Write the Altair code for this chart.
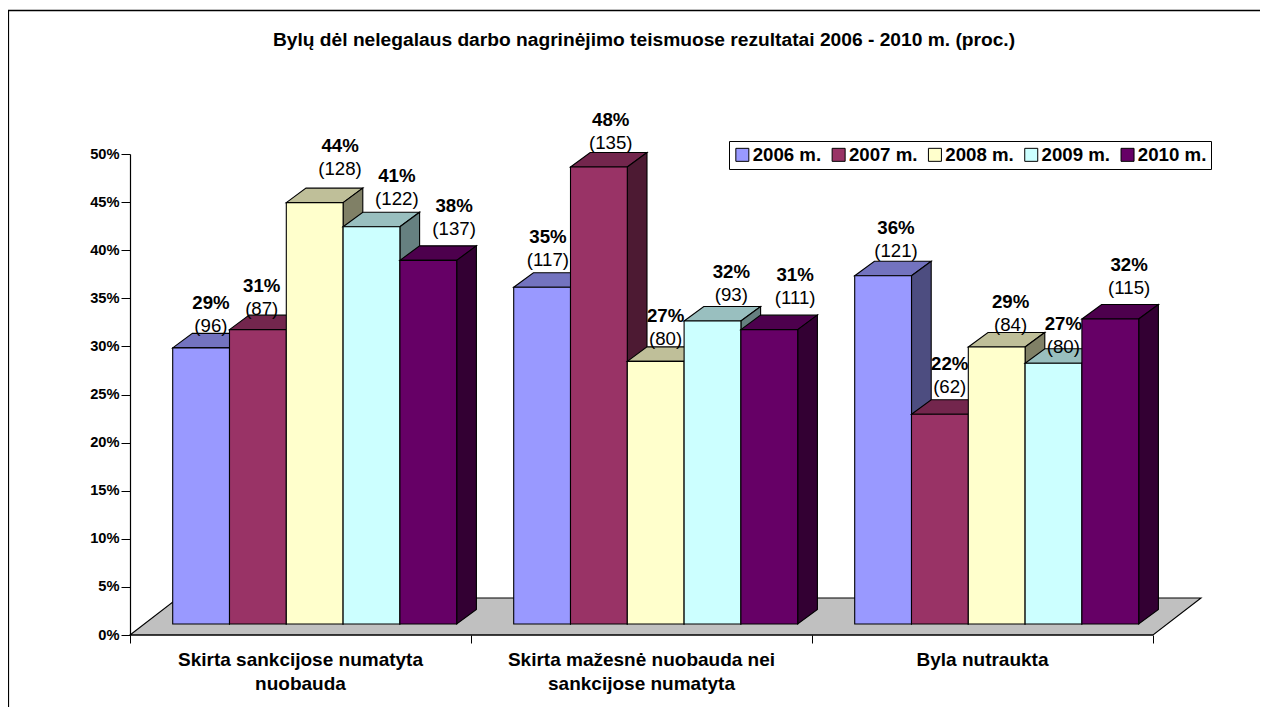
import altair as alt
import pandas as pd

categories = ["Skirta sankcijose numatyta\nnuobauda",
              "Skirta mažesnė nuobauda nei\nsankcijose numatyta",
              "Byla nutraukta"]
series = ["2006 m.", "2007 m.", "2008 m.", "2009 m.", "2010 m."]
bar_values = [[28.7, 30.6, 43.8, 41.3, 37.8],
              [35.0, 47.5, 27.3, 31.5, 30.6],
              [36.2, 21.8, 28.8, 27.1, 31.7]]
percent_labels = [["29%", "31%", "44%", "41%", "38%"],
                  ["35%", "48%", "27%", "32%", "31%"],
                  ["36%", "22%", "29%", "27%", "32%"]]
count_labels = [["(96)", "(87)", "(128)", "(122)", "(137)"],
                ["(117)", "(135)", "(80)", "(93)", "(111)"],
                ["(121)", "(62)", "(84)", "(80)", "(115)"]]
title = "Bylų dėl nelegalaus darbo nagrinėjimo teismuose rezultatai 2006 - 2010 m. (proc.)"

front_colors = ["#9999FF", "#993366", "#FFFFCC", "#CCFFFF", "#660066"]
top_colors = ["#7373BF", "#73264D", "#BFBF99", "#99BFBF", "#4D004D"]
side_colors = ["#4D4D80", "#4D1A33", "#808066", "#668080", "#330033"]

# hand placed label nudges, px (dx from bar centre, lift above rear edge)
label_dx = [[0, -6, 15.5, 15.5, 16], [-4, 2, 0, 9, 16], [3, 0, 4, 0, 9]]
label_lift = [[30, 29.5, 42, 36, 39.5], [35.5, 32.5, 30.5, 34.5, 40.5], [33.5, 35.5, 30.5, 24.5, 39.5]]

# Geometry of the sheared 3D projection
PX_X = 341.0       # px per category
PX_Y = 481 / 50.0  # px per percent
PLOT_W, PLOT_H = 1071, 481
BAR_W = 56.8 / PX_X
START = 42.7 / PX_X
DX, DY = 19.7 / PX_X, 14.5 / PX_Y
BASE = 11 / PX_Y
FLOOR_DX, FLOOR_DY = 48 / PX_X, 37 / PX_Y

rows, labels = [], []


def add(face, key, pts):
    for x, y, y2 in pts:
        rows.append({"face": face, "key": key, "x": x, "y": y, "y2": y2})


add(0, "floor", [(0, 0, 0), (FLOOR_DX, FLOOR_DY, 0), (3, FLOOR_DY, 0), (3 + FLOOR_DX, FLOOR_DY, FLOOR_DY)])
n = 1
for c, vals in enumerate(bar_values):
    for s, v in enumerate(vals):
        x0 = c + START + s * BAR_W
        x1 = x0 + BAR_W
        top = v + BASE
        add(n, series[s] + " top", [(x0, top, top), (x0 + DX, top + DY, top), (x1, top + DY, top), (x1 + DX, top + DY, top + DY)])
        add(n + 1, series[s] + " side", [(x1, top, BASE), (x1 + DX, top + DY, BASE + DY)])
        add(n + 2, series[s], [(x0, top, BASE), (x1, top, BASE)])
        n += 3
        cx = x0 + (BAR_W + DX) / 2 + label_dx[c][s] / PX_X
        yb = top + DY + label_lift[c][s] / PX_Y
        labels.append({"x": cx, "y": yb, "y_count": yb - 23 / PX_Y,
                       "pct": percent_labels[c][s], "cnt": count_labels[c][s]})

keys, rng = ["floor"], ["#C0C0C0"]
for i, name in enumerate(series):
    keys += [name, name + " top", name + " side"]
    rng += [front_colors[i], top_colors[i], side_colors[i]]

FONT = "Liberation Sans"
x_scale = alt.Scale(domain=[0, PLOT_W / PX_X], nice=False, zero=False)
y_scale = alt.Scale(domain=[0, 50], nice=False)

faces = alt.Chart(pd.DataFrame(rows)).mark_area(
    orient="vertical", stroke="black", strokeWidth=1.1, strokeJoin="miter", opacity=1
).encode(
    x=alt.X("x:Q", scale=x_scale, axis=alt.Axis(
        values=[0, 1, 2, 3], labels=False, title=None, domain=False, grid=False,
        tickColor="black", tickSize=8, tickWidth=1)),
    y=alt.Y("y:Q", scale=y_scale, axis=alt.Axis(
        values=list(range(0, 51, 5)), labelExpr="datum.value + '%'", title=None, grid=False,
        domainColor="black", domainWidth=1.2, tickColor="black", tickSize=9, tickWidth=1,
        labelFont=FONT, labelFontWeight="bold", labelFontSize=14.67, labelColor="black", labelPadding=2)),
    y2="y2:Q",
    detail="face:N",
    color=alt.Color("key:N", scale=alt.Scale(domain=keys, range=rng), legend=alt.Legend(
        values=series, title=None, orient="none", legendX=599, legendY=-13,
        direction="horizontal", columns=5, symbolType="square", symbolSize=169,
        symbolStrokeColor="black", symbolStrokeWidth=1, labelFont=FONT, labelFontWeight="bold",
        labelFontSize=18.67, labelColor="black", labelOffset=1, columnPadding=7.3,
        padding=4, strokeColor="black", fillColor="white", labelLimit=200)),
)

zero_line = alt.Chart(alt.Data(values=[{"a": 0, "b": 3, "z": 0}])).mark_rule(color="black", strokeWidth=1.2).encode(
    x=alt.X("a:Q", scale=x_scale), x2="b:Q", y=alt.Y("z:Q", scale=y_scale))

lab_df = pd.DataFrame(labels)
pct_text = alt.Chart(lab_df).mark_text(font=FONT, fontWeight="bold", fontSize=18.67, color="black", baseline="middle").encode(
    x=alt.X("x:Q", scale=x_scale), y=alt.Y("y:Q", scale=y_scale), text="pct:N")
cnt_text = alt.Chart(lab_df).mark_text(font=FONT, fontSize=18.67, color="black", baseline="middle").encode(
    x=alt.X("x:Q", scale=x_scale), y=alt.Y("y_count:Q", scale=y_scale), text="cnt:N")

cat_df = pd.DataFrame({"x": [i + 0.5 for i in range(len(categories))], "t": categories})
cat_text = alt.Chart(cat_df).mark_text(font=FONT, fontWeight="bold", fontSize=19, color="black",
                                       baseline="top", lineBreak="\n", lineHeight=24).encode(
    x=alt.X("x:Q", scale=x_scale), y=alt.value(PLOT_H + 16), text="t:N")

frame = alt.Data(values=[{}])
top_line = alt.Chart(frame).mark_rule(color="black", strokeWidth=1.4).encode(
    x=alt.value(-122), x2=alt.value(1130), y=alt.value(-143.5))
left_line = alt.Chart(frame).mark_rule(color="black", strokeWidth=1.4).encode(
    x=alt.value(-121.6), y=alt.value(-144), y2=alt.value(PLOT_H + 72))

chart = alt.layer(faces, zero_line, pct_text, cnt_text, cat_text, top_line, left_line).properties(
    width=PLOT_W, height=PLOT_H,
    title=alt.TitleParams(title, font=FONT, fontWeight="bold", fontSize=19.2, color="black",
                          anchor="middle", frame="group", offset=-41, dx=-21.5),
    padding={"left": 122, "top": 146, "right": 59, "bottom": 72},
    autosize=alt.AutoSizeParams(type="none"),
    background="white",
).configure_view(stroke=None)

chart.save("out.html", embed_options={"renderer": "svg", "actions": False})
